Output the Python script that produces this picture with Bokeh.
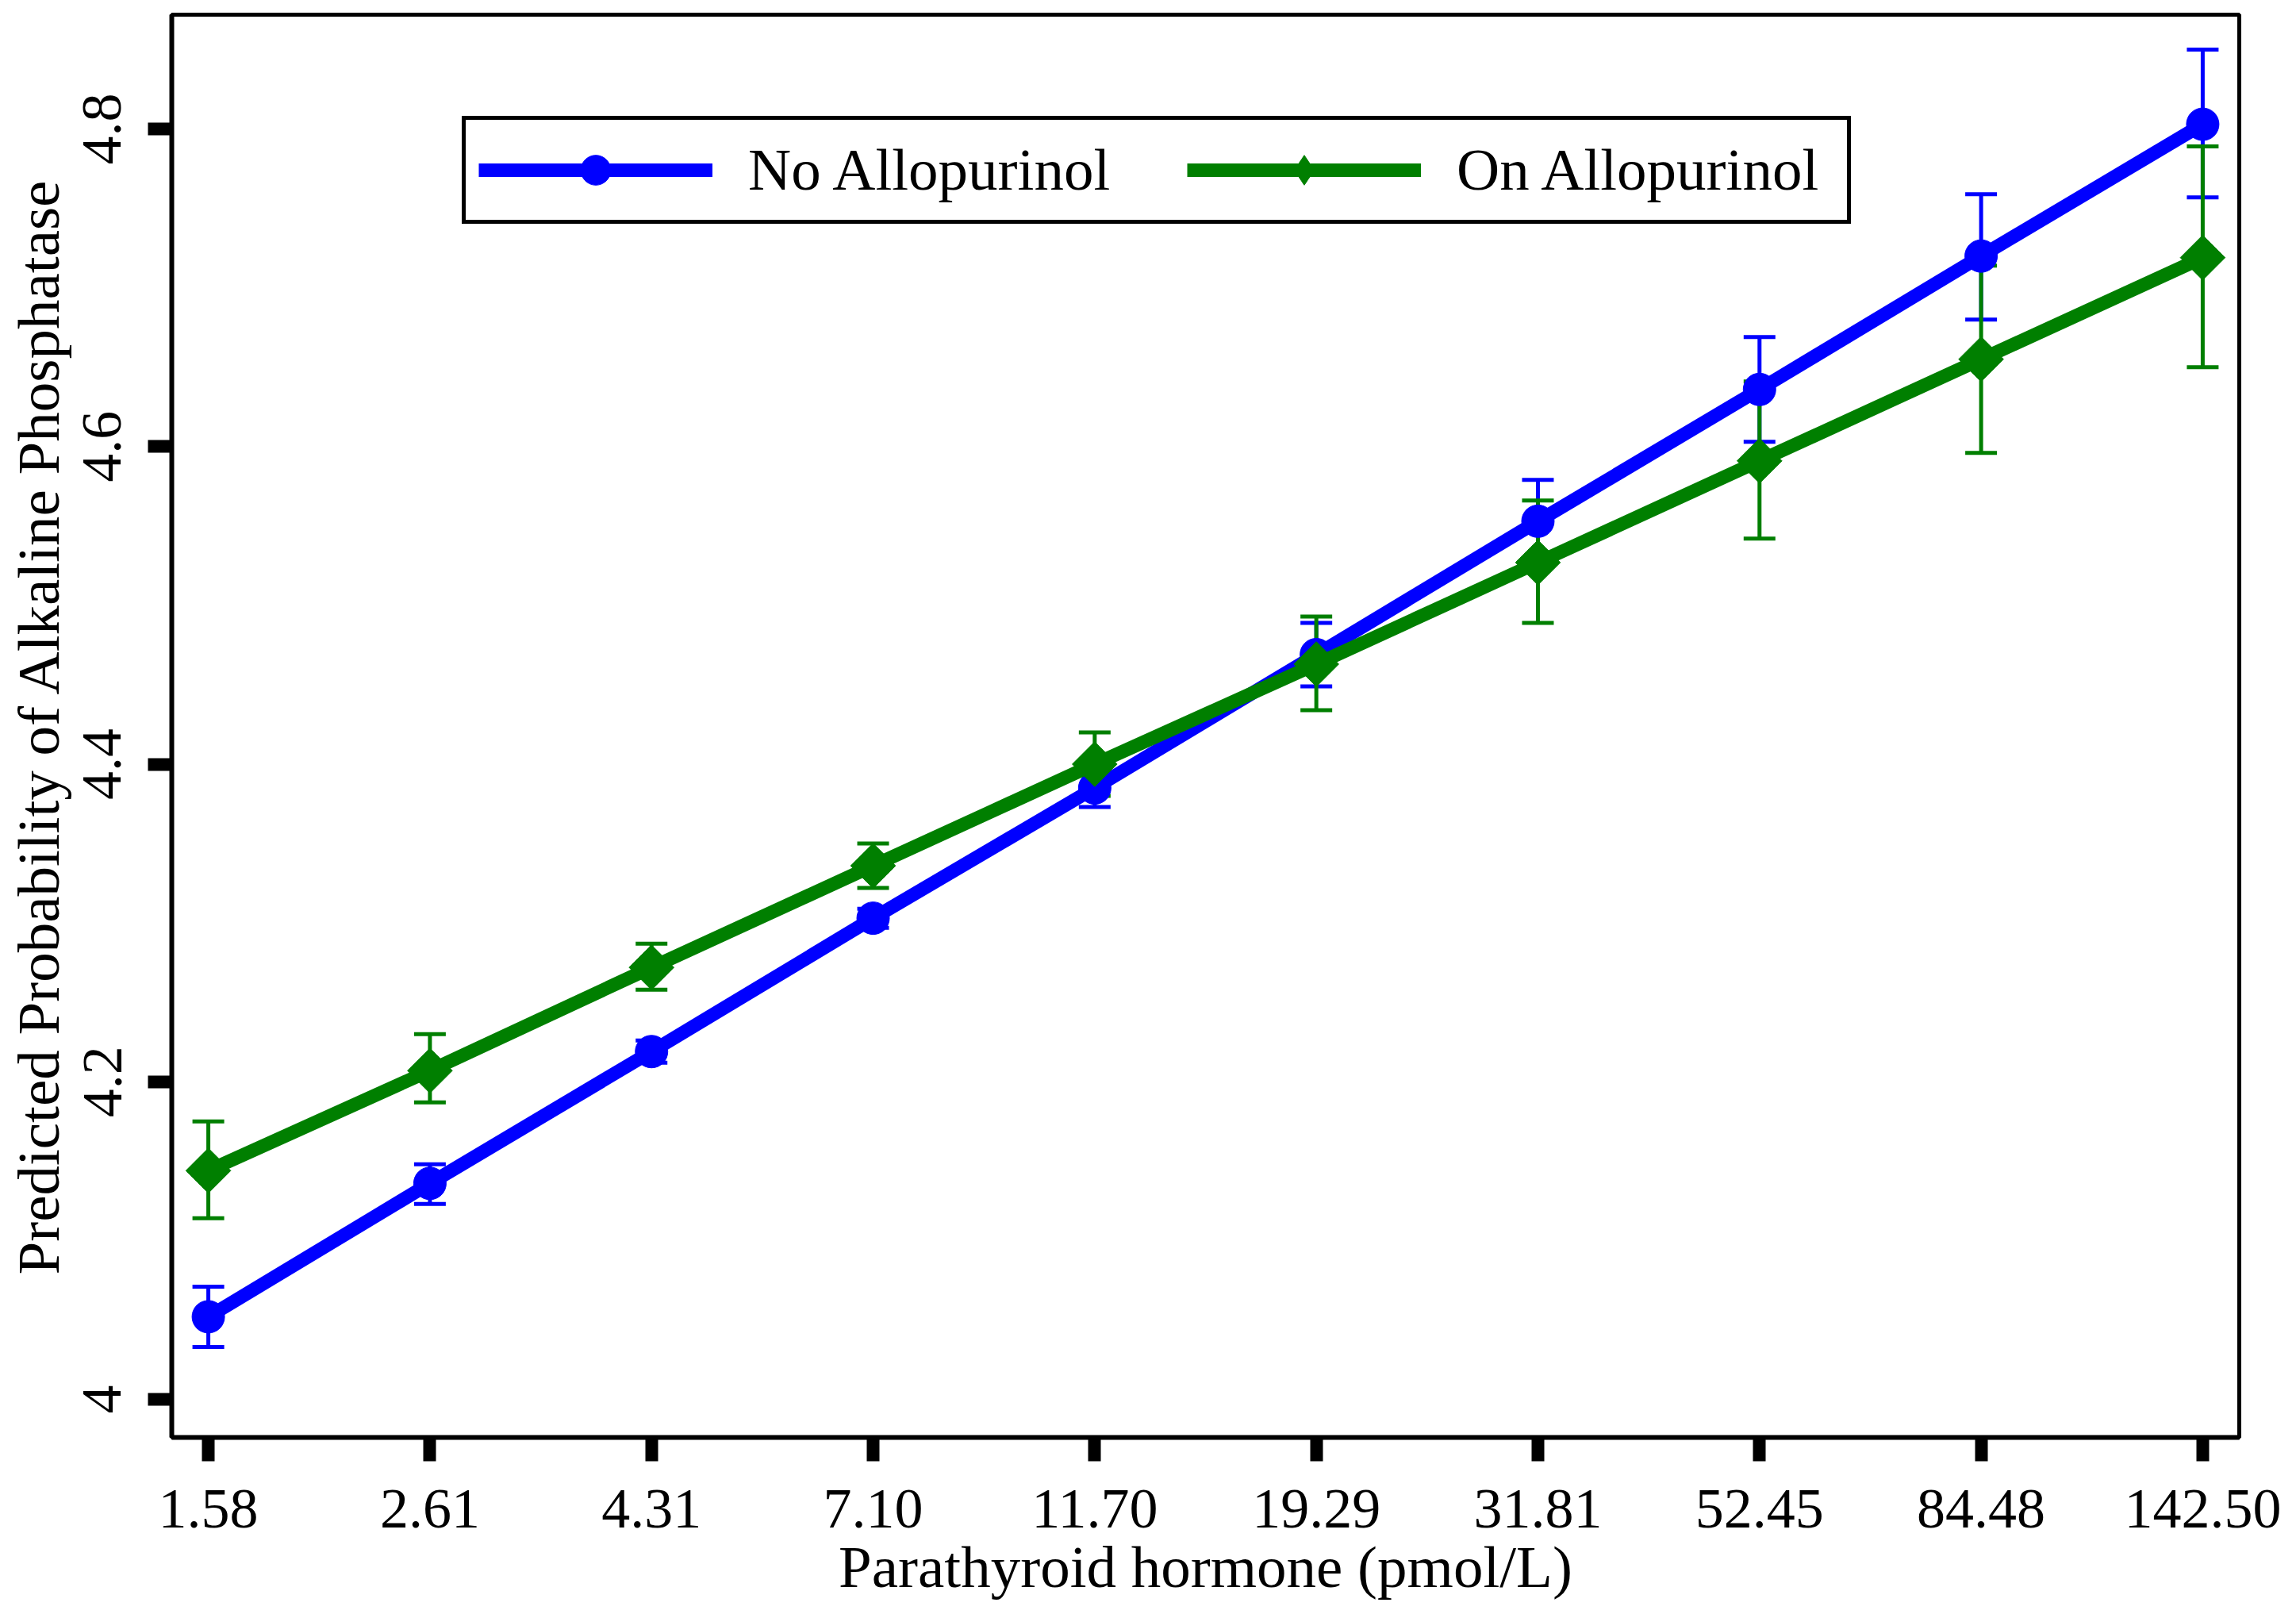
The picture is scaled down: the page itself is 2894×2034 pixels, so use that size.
import numpy as np
from bokeh.plotting import figure
from bokeh.models import (ColumnDataSource, Whisker, TeeHead, FixedTicker,
                          Legend, LegendItem, Range1d)
from bokeh.embed import file_html
from bokeh.resources import INLINE

# ---------------- data ----------------
pth_labels = ["1.58", "2.61", "4.31", "7.10", "11.70", "19.29",
              "31.81", "52.45", "84.48", "142.50"]

no_allo_mean  = [4.052, 4.136, 4.219, 4.303, 4.385, 4.469, 4.553, 4.636, 4.720, 4.803]
no_allo_lower = [4.033, 4.123, 4.212, 4.297, 4.373, 4.449, 4.528, 4.603, 4.680, 4.757]
no_allo_upper = [4.071, 4.148, 4.226, 4.309, 4.397, 4.489, 4.579, 4.669, 4.759, 4.850]

on_allo_mean  = [4.144, 4.207, 4.272, 4.336, 4.400, 4.463, 4.527, 4.591, 4.655, 4.719]
on_allo_lower = [4.114, 4.187, 4.258, 4.322, 4.380, 4.434, 4.489, 4.542, 4.596, 4.650]
on_allo_upper = [4.175, 4.230, 4.287, 4.350, 4.420, 4.493, 4.566, 4.641, 4.714, 4.789]

y_ticks = [4.0, 4.2, 4.4, 4.6, 4.8]
y_tick_labels = ["4", "4.2", "4.4", "4.6", "4.8"]

series_names = ["No Allopurinol", "On Allopurinol"]
x_title = "Parathyroid hormone (pmol/L)"
y_title = "Predicted Probability of Alkaline Phosphatase"

# ---------------- styling ----------------
FONT = "Liberation Serif"
BLUE = "#0000FF"
GREEN = "#007F00"

x_idx = list(range(len(pth_labels)))

p = figure(width=2878, height=2018, output_backend="svg", toolbar_location=None,
           x_range=Range1d(-0.165, 9.165), y_range=Range1d(3.976, 4.872),
           min_border_left=216, min_border_right=56, min_border_top=18,
           min_border_bottom=207)
p.background_fill_color = "white"
p.border_fill_color = "white"
p.outline_line_color = "black"
p.outline_line_width = 5
p.xgrid.visible = False
p.ygrid.visible = False

src_b = ColumnDataSource(dict(x=x_idx, y=no_allo_mean, lo=no_allo_lower, hi=no_allo_upper))
src_g = ColumnDataSource(dict(x=x_idx, y=on_allo_mean, lo=on_allo_lower, hi=on_allo_upper))

for src, col in ((src_b, BLUE), (src_g, GREEN)):
    w = Whisker(source=src, base="x", upper="hi", lower="lo", dimension="height",
                line_color=col, line_width=5,
                upper_head=TeeHead(size=40, line_color=col, line_width=5),
                lower_head=TeeHead(size=40, line_color=col, line_width=5))
    p.add_layout(w)

lb = p.line("x", "y", source=src_b, line_color=BLUE, line_width=17)
sb = p.scatter("x", "y", source=src_b, marker="circle", size=41,
               fill_color=BLUE, line_color=BLUE)
lg = p.line("x", "y", source=src_g, line_color=GREEN, line_width=17)
sg = p.scatter("x", "y", source=src_g, marker="square", size=40, angle=np.pi / 4,
               fill_color=GREEN, line_color=GREEN)
# legend key for the diamond marker (legend keys ignore marker angle)
sg_key = p.scatter("x", "y", source=src_g, marker="diamond", size=60,
                   fill_color=GREEN, line_color=GREEN, visible=False)

# ---------------- axes ----------------
xa = p.xaxis[0]
xa.ticker = FixedTicker(ticks=x_idx)
xa.major_label_overrides = {i: lab for i, lab in zip(x_idx, pth_labels)}
ya = p.yaxis[0]
ya.ticker = FixedTicker(ticks=y_ticks)
ya.major_label_overrides = {v: lab for v, lab in zip(y_ticks, y_tick_labels)}
ya.major_label_orientation = "vertical"

for ax in (xa, ya):
    ax.axis_line_color = "black"
    ax.axis_line_width = 6
    ax.major_tick_line_color = "black"
    ax.major_tick_line_width = 16
    ax.major_tick_out = 30
    ax.major_tick_in = 0
    ax.minor_tick_line_color = None
    ax.major_label_text_font = FONT
    ax.major_label_text_font_size = "72px"
    ax.major_label_text_color = "black"
    ax.axis_label_text_font = FONT
    ax.axis_label_text_font_size = "75px"
    ax.axis_label_text_font_style = "normal"
    ax.axis_label_text_color = "black"

xa.axis_label = x_title
ya.axis_label = y_title
xa.major_label_standoff = 36
xa.axis_label_standoff = 5
ya.major_label_standoff = 34
ya.axis_label_standoff = 13

# ---------------- legend ----------------
legend = Legend(items=[LegendItem(label=series_names[0], renderers=[lb, sb]),
                       LegendItem(label=series_names[1], renderers=[lg, sg_key])],
                orientation="horizontal", location=(366, 1529),
                glyph_width=295, glyph_height=94, padding=16, margin=0,
                spacing=77, label_standoff=45, label_width=476,
                label_text_font=FONT, label_text_font_size="75px",
                label_text_color="black",
                border_line_color="black", border_line_width=5,
                border_line_alpha=1.0,
                background_fill_color="white", background_fill_alpha=1.0)
p.add_layout(legend, "center")

open("out.html", "w").write(file_html(p, INLINE))
